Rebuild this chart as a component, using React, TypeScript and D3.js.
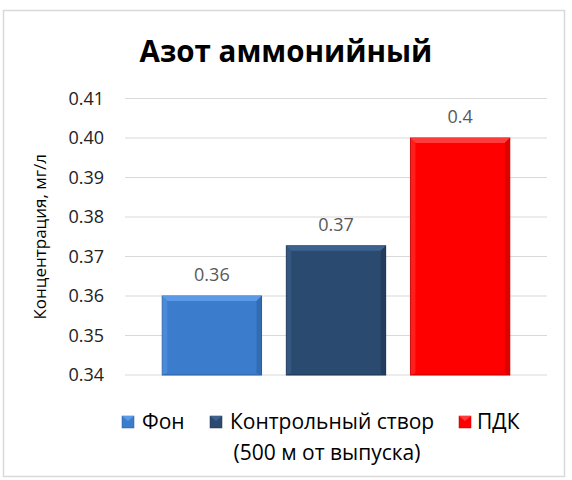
import React from "react";
import * as d3 from "d3";

const categories = ["Фон", "Контрольный створ", "ПДК"];
const values = [0.36, 0.3727, 0.4];
const valueLabels = ["0.36", "0.37", "0.4"];
const yTicks = [0.34, 0.35, 0.36, 0.37, 0.38, 0.39, 0.4, 0.41];
const colors = ["#3b7ccc", "#2b4a6f", "#ff0000"];
const topColors = ["#5a9ae6", "#3e6290", "#ff3a3a"];
const strokeColors = ["#2a5d9c", "#1c324c", "#c00000"];

const W = 572;
const H = 480;
const FONT = "'Open Sans', 'Liberation Sans', Arial, sans-serif";

export default function App() {
  const x = d3.scaleBand<string>().domain(categories).range([125, 547]).paddingInner(0.2).paddingOuter(0.3);
  const y = d3.scaleLinear().domain([0.34, 0.41]).range([375, 98.5]);
  const bw = x.bandwidth();
  const bev = 5;

  const legendItems = [
    { label: "Фон", sx: 122, tx: 142 },
    { label: "Контрольный створ", sx: 210, tx: 230 },
    { label: "ПДК", sx: 459, tx: 477 },
  ];

  return (
    <svg width={W} height={H} style={{ position: "absolute", left: 0, top: 0 }} fontFamily={FONT}>
      <rect x={0} y={0} width={W} height={H} fill="#fff" />
      <rect x={3.5} y={10.5} width={561} height={466} fill="#fff" stroke="#d9d9d9" strokeWidth={1.5} />
      <text x={286} y={62} textAnchor="middle" fontSize={29.5} fontWeight="bold" fill="#000">
        Азот аммонийный
      </text>
      {yTicks.map((t) => (
        <g key={t}>
          <line x1={125} x2={547} y1={y(t)} y2={y(t)} stroke="#d9d9d9" strokeWidth={1} />
          <text x={104} y={y(t)} dy="0.35em" textAnchor="end" fontSize={18} fill="#222">
            {t.toFixed(2)}
          </text>
        </g>
      ))}
      <text
        transform={`translate(46,${(98.5 + 375) / 2}) rotate(-90)`}
        textAnchor="middle"
        fontSize={17}
        fill="#000"
      >
        Концентрация,  мг/л
      </text>
      {categories.map((c, i) => {
        const x0 = x(c)!;
        const x1 = x0 + bw;
        const y0 = y(values[i]);
        const y1 = y(0.34);
        return (
          <g key={c}>
            <rect x={x0} y={y0} width={bw} height={y1 - y0} fill={colors[i]} stroke={strokeColors[i]} strokeWidth={1} />
            <polygon
              points={`${x0},${y0} ${x1},${y0} ${x1 - bev},${y0 + bev} ${x0 + bev},${y0 + bev}`}
              fill={topColors[i]}
            />
            <polygon
              points={`${x0},${y0} ${x0 + bev},${y0 + bev} ${x0 + bev},${y1 - 2} ${x0},${y1}`}
              fill={topColors[i]}
              opacity={0.5}
            />
            <polygon
              points={`${x1},${y0} ${x1 - bev},${y0 + bev} ${x1 - bev},${y1 - 2} ${x1},${y1}`}
              fill={strokeColors[i]}
              opacity={0.5}
            />
            <text x={x0 + bw / 2} y={y0 - 21} dy="0.35em" textAnchor="middle" fontSize={18} fill="#595959">
              {valueLabels[i]}
            </text>
          </g>
        );
      })}
      {legendItems.map((l, i) => (
        <g key={l.label}>
          <rect x={l.sx} y={416} width={12} height={12} fill={colors[i]} stroke={strokeColors[i]} strokeWidth={0.5} />
          <polygon points={`${l.sx},416 ${l.sx + 12},416 ${l.sx + 6},421`} fill={topColors[i]} />
          <text x={l.tx} y={422} dy="0.35em" fontSize={21} fill="#000">
            {l.label}
          </text>
        </g>
      ))}
      <text x={327} y={453} dy="0.35em" textAnchor="middle" fontSize={21} fill="#000">
        (500 м от выпуска)
      </text>
    </svg>
  );
}
